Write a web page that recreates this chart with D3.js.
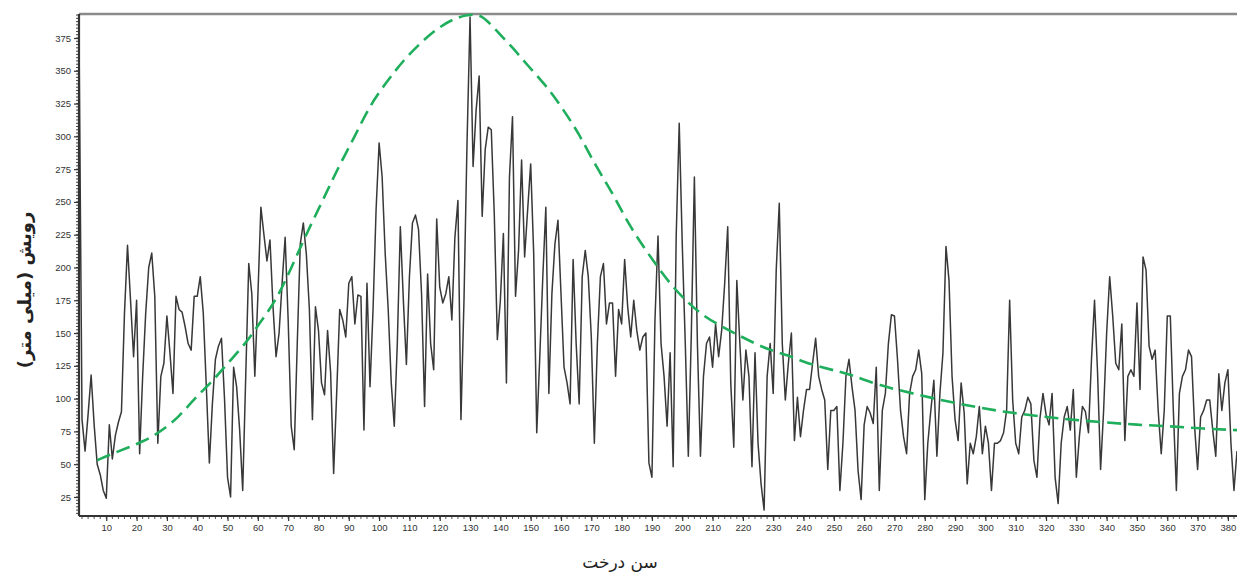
<!DOCTYPE html>
<html><head><meta charset="utf-8">
<script src="https://cdn.jsdelivr.net/npm/d3@7"></script>
<style>
html,body{margin:0;padding:0;background:#fff;}
svg{display:block;}
</style></head>
<body>
<svg id="chart" width="1237" height="577"></svg>
<script>
// ---- data ----
const firstYear = 1;
const growth = [
380,84,60,88,118,80,50,42,30,24,80,54,72,82,90,165,217,175,132,175,
58,117,165,200,211,178,66,117,127,163,135,104,178,168,166,155,142,137,178,178,
193,165,109,51,96,130,140,146,100,40,25,124,109,76,30,117,203,180,117,178,
246,225,205,221,170,132,150,188,223,160,79,61,142,218,234,210,168,84,170,152,
112,103,152,120,43,104,168,160,147,188,193,157,179,178,76,188,109,168,244,295,
269,211,168,112,79,142,231,175,126,193,234,240,229,180,94,195,142,122,237,185,
173,180,193,160,223,251,84,175,295,391,277,320,346,239,290,307,305,240,145,175,
226,112,269,315,178,213,282,208,244,279,210,74,132,193,246,104,180,218,236,180,
124,112,96,206,142,96,193,213,193,147,66,142,193,203,157,173,173,117,168,157,
206,170,147,175,152,137,147,150,51,40,160,224,142,117,79,135,48,224,310,218,
142,56,150,269,142,56,117,142,147,124,157,132,152,188,231,112,63,190,142,99,
137,117,48,135,66,35,15,117,142,104,198,249,142,99,127,150,68,101,71,91,
107,107,127,146,117,107,99,46,91,91,94,30,66,117,130,109,91,45,23,80,
94,89,81,124,30,91,104,142,164,163,130,91,71,58,104,117,122,137,119,23,
66,91,114,56,104,135,216,190,117,84,68,112,89,35,66,58,71,94,58,79,
66,30,66,66,68,74,91,175,99,66,58,86,91,101,96,53,40,85,104,88,
80,104,40,20,66,86,94,76,107,40,71,94,90,74,130,175,120,46,91,150,
193,163,127,122,157,68,117,122,117,173,107,208,198,140,130,137,91,58,91,163,
163,91,30,104,117,122,137,132,79,46,86,91,99,99,76,56,119,91,112,122,
66,30,60
];
const trendYears = [7,12,23,28,34,39,45,50,56,61,67,75,81,86,92,97,103,108,114,119,124,129,134,138,144,149,155,160,166,171,177,182,188,196,202,207,213,218,224,229,235,240,246,251,256,265,276,287,298,309,320,328,339,350,361,372,383];
const trendValues = [53,58,68,75,86,100,113,127,142,159,178,221,249,274,300,324,343,358,372,382,389,393,393,382,368,354,339,323,302,279,257,234,213,187,173,163,155,149,142,137,133,128,124,121,118,110,104,98,93,89,86,84,82,80,79,77,76];
const xTicks = [10,20,30,40,50,60,70,80,90,100,110,120,130,140,150,160,170,180,190,200,210,220,230,240,250,260,270,280,290,300,310,320,330,340,350,360,370,380];
const yTicks = [25,50,75,100,125,150,175,200,225,250,275,300,325,350,375];
const xLabel = "سن درخت";
const yLabel = "رویش (میلی متر)";

// ---- layout ----
const svg = d3.select("#chart");
const L = 79, R = 1237, T = 14, B = 516;
const x = d3.scaleLinear().domain([1, 383]).range([L, R]);
const y = d3.scaleLinear().domain([10.5, 393.3]).range([B, T]);

svg.append("defs").append("clipPath").attr("id","clip")
  .append("rect").attr("x",L).attr("y",T-2).attr("width",R-L).attr("height",B-T+2);

// top frame line
svg.append("line").attr("x1",L).attr("x2",R).attr("y1",T).attr("y2",T)
  .attr("stroke","#8a8a8a").attr("stroke-width",2.5);

// series
const pts = growth.map((v,i)=>({yr:firstYear+i, v}));
svg.append("path").datum(pts)
  .attr("clip-path","url(#clip)")
  .attr("fill","none").attr("stroke","#383838").attr("stroke-width",1.5)
  .attr("stroke-linejoin","round")
  .attr("d", d3.line().x(d=>x(d.yr)).y(d=>y(d.v)));

// trend curve
const tr = trendYears.map((t,i)=>({yr:t, v:trendValues[i]}));
svg.append("path").datum(tr)
  .attr("clip-path","url(#clip)")
  .attr("fill","none").attr("stroke","#1fae5c").attr("stroke-width",2.6)
  .attr("stroke-dasharray","14,7")
  .attr("d", d3.line().curve(d3.curveBasis).x(d=>x(d.yr)).y(d=>y(d.v)));

// minor ticks
const yMinor = d3.range(12.5, 393, 2.5);
svg.append("g").selectAll("line").data(yMinor).join("line")
  .attr("x1",L-3).attr("x2",L).attr("y1",d=>y(d)).attr("y2",d=>y(d))
  .attr("stroke","#444").attr("stroke-width",1);
const xMinor = d3.range(2, 384, 2);
svg.append("g").selectAll("line").data(xMinor).join("line")
  .attr("x1",d=>x(d)).attr("x2",d=>x(d)).attr("y1",B).attr("y2",B+3)
  .attr("stroke","#555").attr("stroke-width",1);

// axes
const yAxis = svg.append("g").attr("transform",`translate(${L},0)`)
  .call(d3.axisLeft(y).tickValues(yTicks).tickSize(5).tickPadding(3));
const xAxis = svg.append("g").attr("transform",`translate(0,${B})`)
  .call(d3.axisBottom(x).tickValues(xTicks).tickSize(5).tickPadding(3));
[yAxis,xAxis].forEach(g=>{
  g.select(".domain").attr("stroke","#333").attr("stroke-width",2.2);
  g.selectAll(".tick line").attr("stroke","#333").attr("stroke-width",1.2);
  g.selectAll(".tick text").attr("fill","#333").attr("font-family","Liberation Sans, Arial, sans-serif")
   .attr("font-size",9.5);
});
yAxis.select(".domain").attr("d",`M0,${B}V${T}`);
xAxis.select(".domain").attr("d",`M${L},0H${R}`);

// axis titles
svg.append("text").attr("x",620).attr("y",568).attr("text-anchor","middle")
  .attr("font-family","DejaVu Sans, Noto Sans, sans-serif").attr("font-size",17)
  .attr("fill","#222").attr("direction","rtl").text(xLabel);
svg.append("text").attr("transform","translate(31,290) rotate(-90)")
  .attr("text-anchor","middle").attr("font-family","DejaVu Sans, Noto Sans, sans-serif")
  .attr("font-size",18).attr("font-weight","bold").attr("fill","#222").attr("direction","rtl").text(yLabel);
</script>
</body></html>
